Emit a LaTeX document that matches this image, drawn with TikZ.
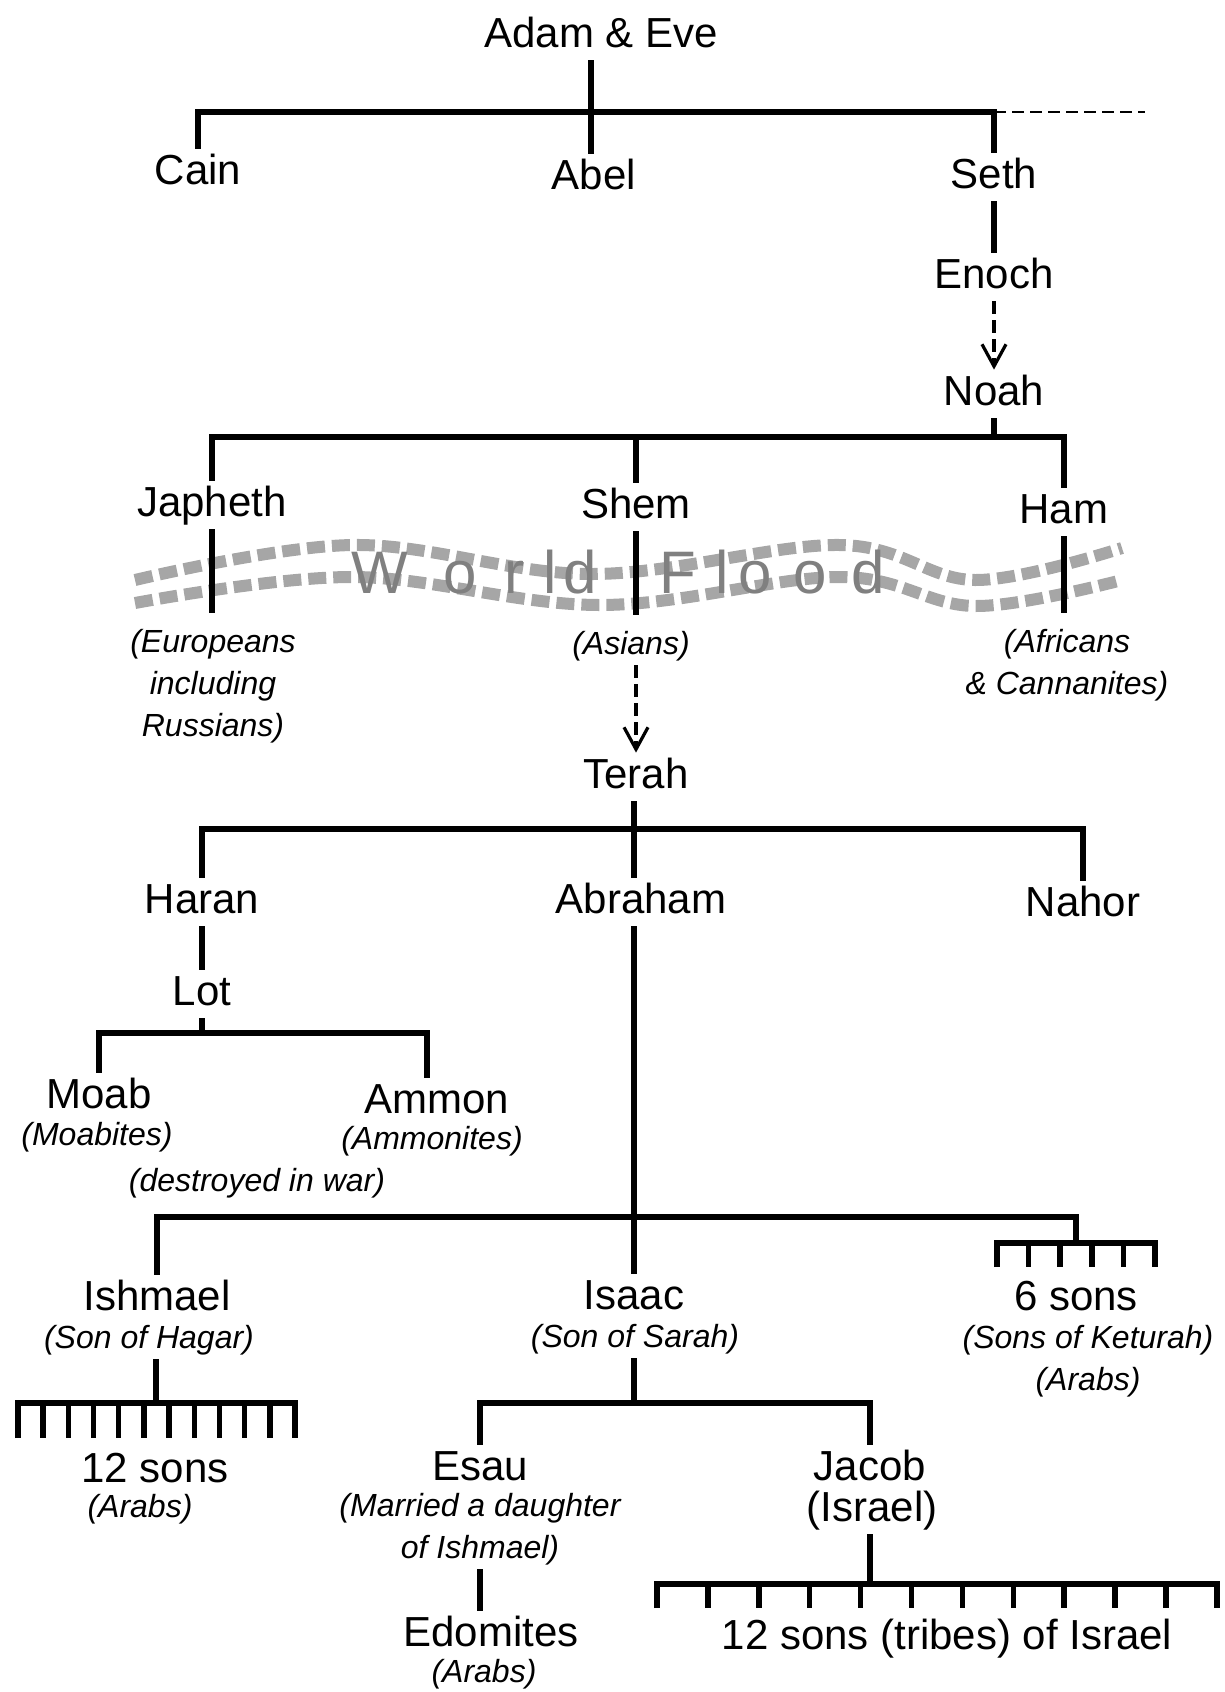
\documentclass[tikz,border=0pt]{standalone}
\usepackage{fontspec}
\setmainfont{Liberation Sans}
\usetikzlibrary{arrows.meta}
\tikzstyle{person} = [font=\fontsize{21}{25}\selectfont, text height=15.5pt, text depth=4.5pt, inner sep=2pt]
\tikzstyle{remark} = [font=\fontsize{16}{21}\selectfont\itshape, align=center, inner sep=2pt]
\tikzstyle{tie} = [line width=2.75pt]
\tikzstyle{dashtie} = [line width=1.4pt, dash pattern=on 6pt off 3pt]
\tikzstyle{descent} = [line width=1.6pt, dash pattern=on 6.5pt off 3pt, -{Straight Barb[length=11pt, width=12pt]}]
\tikzstyle{flood} = [black!35, line width=6pt, dash pattern=on 9pt off 3.5pt]
\tikzstyle{floodletter} = [font=\fontsize{30}{30}\selectfont, text=black!50, anchor=base, inner sep=0pt]

\begin{document}
\begin{tikzpicture}[x=0.5pt, y=-0.5pt]
    \useasboundingbox (0,0) rectangle (1225,1692);

    \node [person] at (601,36) (adam) {Adam \& Eve};
    \node [person] at (198,173) (cain) {Cain};
    \node [person] at (594,178) (abel) {Abel};
    \node [person] at (994,177) (seth) {Seth};
    \node [person] at (994,277) (enoch) {Enoch};
    \node [person] at (994,394) (noah) {Noah};
    \node [person] at (212,505) (japheth) {Japheth};
    \node [person] at (636,507) (shem) {Shem};
    \node [person] at (1064,512) (ham) {Ham};
    \node [remark] at (213,686) (europe) {(Europeans\\including\\Russians)};
    \node [remark] at (631,646) (asians) {(Asians)};
    \node [remark] at (1067,665) (africa) {(Africans\\\& Cannanites)};
    \node [person] at (636,777) (terah) {Terah};
    \node [person] at (202,902) (haran) {Haran};
    \node [person] at (641,902) (abraham) {Abraham};
    \node [person] at (1083,905) (nahor) {Nahor};
    \node [person] at (202,994) (lot) {Lot};
    \node [person] at (99,1097) (moab) {Moab};
    \node [remark] at (97,1137) (moabites) {(Moabites)};
    \node [person] at (437,1102) (ammon) {Ammon};
    \node [remark] at (432,1141) (ammonites) {(Ammonites)};
    \node [remark] at (257,1183) (destroyed) {(destroyed in war)};
    \node [person] at (157,1299) (ishmael) {Ishmael};
    \node [remark] at (149,1340) (hagar) {(Son of Hagar)};
    \node [person] at (155,1471) (twelvesons) {12 sons};
    \node [remark] at (140,1509) (arabsone) {(Arabs)};
    \node [person] at (634,1298) (isaac) {Isaac};
    \node [remark] at (635,1339) (sarah) {(Son of Sarah)};
    \node [person] at (1076,1299) (sixsons) {6 sons};
    \node [remark] at (1088,1361) (keturah) {(Sons of Keturah)\\(Arabs)};
    \node [person] at (480,1469) (esau) {Esau};
    \node [remark] at (480,1529) (married) {(Married a daughter\\of Ishmael)};
    \node [person] at (491,1635) (edomites) {Edomites};
    \node [remark] at (484,1674) (arabstwo) {(Arabs)};
    \node [person] at (870,1469) (jacob) {Jacob};
    \node [person] at (872,1510) (israel) {(Israel)};
    \node [person] at (947,1638) (tribes) {12 sons (tribes) of Israel};

    \draw [flood] plot [smooth, tension=0.6] coordinates {(135,580) (353,545) (592,574) (840,545) (975,580) (1122,548)};
    \draw [flood] plot [smooth, tension=0.6] coordinates {(135,603) (353,577) (600,605) (840,577) (975,606) (1122,580)};
    \foreach \ch/\x in {W/380, o/460, r/514, l/550, d/580, F/678, l/722, o/755, o/810, d/868}
        \node [floodletter] at (\x,593) (flood\x) {\ch};

    \coordinate (j0) at (591,112);
    \coordinate (beyond) at (1145,112);
    \draw [tie] (adam.south -| j0) -- (j0);
    \draw [tie] (cain) |- (j0) -| (seth);
    \draw [tie] (j0) -- (j0 |- abel.north);
    \draw [dashtie] (seth |- j0) -- (beyond);
    \draw [tie] (seth) -- (enoch);
    \draw [descent] (enoch) -- (noah);

    \coordinate (j1) at (994,437);
    \draw [tie] (noah) -- (j1);
    \draw [tie] (japheth) |- (j1) -| (ham);
    \draw [tie] (j1 -| shem) -- (shem);
    \draw [tie, shorten >=6pt] (japheth) -- (japheth |- europe.north);
    \draw [tie, shorten >=6pt] (shem) -- (shem |- asians.north);
    \draw [tie, shorten >=6pt] (ham) -- (ham |- africa.north);
    \draw [descent] (shem |- asians.south) -- (terah);

    \coordinate (j2) at (634,829);
    \draw [tie] (terah.south -| j2) -- (j2);
    \draw [tie] (haran) |- (j2) -| (nahor);
    \draw [tie] (j2) -- (j2 |- abraham.north);
    \draw [tie] (haran) -- (lot);

    \coordinate (j3) at (202,1033);
    \coordinate (j3r) at (427,1033);
    \draw [tie] (lot) -- (j3);
    \draw [tie] (moab) |- (j3r) -- (j3r |- ammon.north);

    \coordinate (j4) at (634,1217);
    \coordinate (j4r) at (1076,1217);
    \coordinate (k6) at (1076,1243);
    \draw [tie] (j2 |- abraham.south) -- (j4);
    \draw [tie] (ishmael) |- (j4r) -- (k6);
    \draw [tie] (j4) -- (isaac);
    \draw [tie] (997,1267) -- (997,1243) -- (1155,1243) -- (1155,1267);
    \foreach \i in {1,...,4}
        \draw [tie] (997+\i*31.6,1243) -- ++(0,24);

    \coordinate (k12) at (156,1403);
    \draw [tie] (k12 |- hagar.south) -- (k12);
    \draw [tie] (18,1438) -- (18,1403) -- (295,1403) -- (295,1438);
    \foreach \i in {1,...,10}
        \draw [tie] (18+\i*25.18,1403) -- ++(0,35);

    \coordinate (j5) at (634,1403);
    \coordinate (j5r) at (870,1403);
    \draw [tie] (j5 |- sarah.south) -- (j5);
    \draw [tie] (esau) |- (j5r) -- (jacob);
    \draw [tie] (esau |- married.south) -- (esau |- edomites.north);

    \coordinate (t12) at (870,1584);
    \draw [tie] (t12 |- israel.south) -- (t12);
    \draw [tie] (657,1608) -- (657,1584) -- (1217,1584) -- (1217,1608);
    \foreach \i in {1,...,10}
        \draw [tie] (657+\i*50.9,1584) -- ++(0,24);
\end{tikzpicture}
\end{document}
